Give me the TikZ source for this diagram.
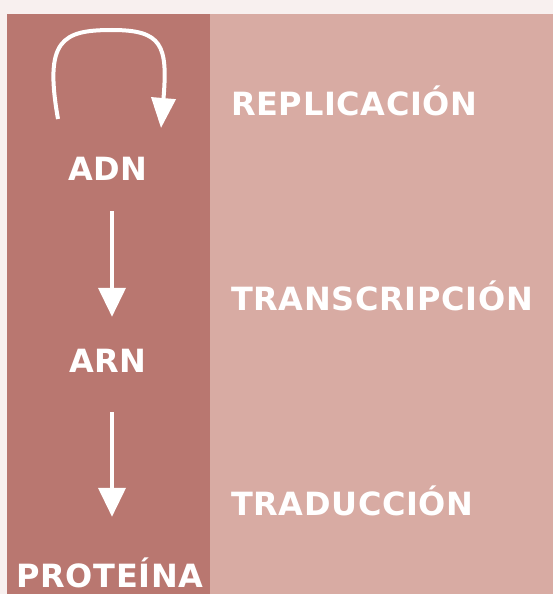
\documentclass[tikz,border=0pt]{standalone}
\usepackage{fontspec}
\setmainfont{DejaVu Sans}
\newfontfamily\labelfont[LetterSpace=2]{DejaVu Sans}
\usetikzlibrary{arrows.meta,positioning}
\definecolor{paper}{RGB}{248,240,239}
\definecolor{darkrose}{RGB}{185,119,112}
\definecolor{lightrose}{RGB}{216,171,163}
\tikzset{x=1pt,y=-1pt,
  molecule/.style={anchor=base,inner sep=0pt,text height=23pt,text depth=0pt,
    text=white,font=\labelfont\fontsize{32}{38}\selectfont\bfseries},
  process/.style={molecule,anchor=base west},
  flow/.style={white,line width=4pt,-{Triangle[length=29pt,width=27pt]}}}

\begin{document}
\begin{tikzpicture}
		\fill[paper]     (0,0)    rectangle (553,594);
		\fill[darkrose]  (7,14)   rectangle (210,594);
		\fill[lightrose] (210,14) rectangle (553,594);
		\node[molecule] (adn)  at (108,180) {ADN};
		\node[molecule] (arn)  at (108,372) {ARN};
		\node[molecule] (prot) at (110,587) {PROTEÍNA};
		\node[process]  (rep)  at (231,115) {REPLICACIÓN};
		\node[process]  (tra)  at (231,310) {TRANSCRIPCIÓN};
		\node[process]  (trd)  at (231,515) {TRADUCCIÓN};
		\coordinate (loopa) at (58,119);
		\coordinate (loopb) at (161,128);
		\draw[flow, -{Triangle[length=30pt,width=24pt]}]
			(loopa) .. controls (44,40) and (62,30) .. (112,30)
			.. controls (162,30) and (168,45) .. (loopb);
		\draw[flow, shorten <=31pt, shorten >=32pt]
			([xshift=4pt]adn.south) -- ([xshift=4pt]arn.north);
		\draw[flow, shorten <=40pt, shorten >=47pt]
			([xshift=4pt]arn.south) -- ([xshift=2pt]prot.north);
	\end{tikzpicture}
\end{document}
